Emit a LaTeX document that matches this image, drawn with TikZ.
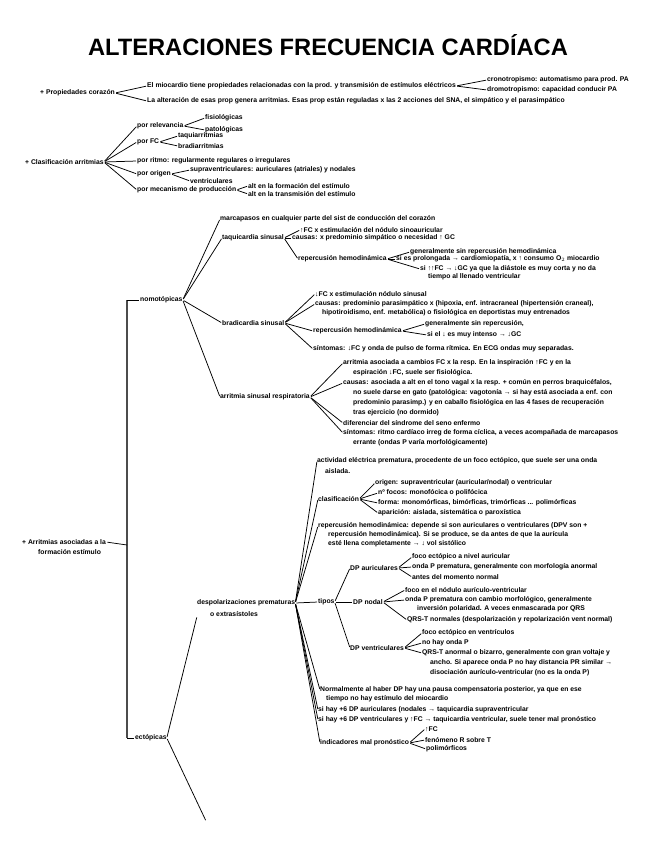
\documentclass[tikz,border=0pt]{standalone}
\usepackage{fontspec}
\setmainfont{Liberation Sans}
\usetikzlibrary{calc}
\tikzset{
  tx/.style={anchor=west, inner sep=0pt, font=\bfseries\fontsize{6.8}{8}\selectfont},
  ln/.style={line width=0.75pt, shorten <=1.2pt, shorten >=1pt},
  trunk/.style={line width=1.3pt, black!70},
}
\begin{document}
\begin{tikzpicture}[x=1pt,y=-1pt]
\useasboundingbox (0,0) rectangle (656,848);
\fill[white] (0,0) rectangle (656,848);
% title
\node[font=\bfseries\fontsize{24}{24}\selectfont, inner sep=0pt] (title) at (328,45) {\resizebox{480pt}{!}{ALTERACIONES FRECUENCIA CARDÍACA}};

% ---------- propiedades
\node[tx] (p0) at (40,93) {+ Propiedades corazón};
\node[tx] (a1) at (147,86) {El miocardio tiene propiedades relacionadas con la prod. y transmisión de estímulos eléctricos};
\node[tx] (a1a) at (487,80) {cronotropismo: automatismo para prod. PA};
\node[tx] (a1b) at (487,90) {dromotropismo: capacidad conducir PA};
\node[tx] (a2) at (147,101) {La alteración de esas prop genera arritmias. Esas prop están reguladas x las 2 acciones del SNA, el simpático y el parasimpático};
\draw[ln] (p0.east) -- (a1.west);
\draw[ln] (p0.east) -- (a2.west);
\draw[ln] (a1.east) -- (a1a.west);
\draw[ln] (a1.east) -- (a1b.west);

% ---------- clasificacion
\node[tx] (c0) at (25,162) {+ Clasificación arritmias};
\node[tx] (c1) at (137,126) {por relevancia};
\node[tx] (c1a) at (205,118) {fisiológicas};
\node[tx] (c1b) at (205,130) {patológicas};
\node[tx] (c2) at (137,142) {por FC};
\node[tx] (c2a) at (178,136) {taquiarritmias};
\node[tx] (c2b) at (178,146) {bradiarritmias};
\node[tx] (c3) at (137,161) {por ritmo: regularmente regulares o irregulares};
\node[tx] (c4) at (137,174) {por origen};
\node[tx] (c4a) at (190,170) {supraventriculares: auriculares (atriales) y nodales};
\node[tx] (c4b) at (190,181) {ventriculares};
\node[tx] (c5) at (137,190) {por mecanismo de producción};
\node[tx] (c5a) at (248,186) {alt en la formación del estímulo};
\node[tx] (c5b) at (248,194) {alt en la transmisión del estímulo};
\foreach \c in {c1,c2,c3,c4,c5} \draw[ln] (c0.east) -- (\c.west);
\draw[ln] (c1.east) -- (c1a.west); \draw[ln] (c1.east) -- (c1b.west);
\draw[ln] (c2.east) -- (c2a.west); \draw[ln] (c2.east) -- (c2b.west);
\draw[ln] (c4.east) -- (c4a.west); \draw[ln] (c4.east) -- (c4b.west);
\draw[ln] (c5.east) -- (c5a.west); \draw[ln] (c5.east) -- (c5b.west);

% ---------- arritmias formacion estimulo
\node[tx] (m0) at (22,542) {+ Arritmias asociadas a la};
\node[tx] (m0b) at (38,552) {formación estímulo};
\coordinate (tt) at (127,300);
\coordinate (tm) at (127,545);
\coordinate (tb) at (127,738);
\draw[trunk] (tt) -- (tb);
\draw[ln, shorten >=0pt] (m0.east) -- (tm);
\node[tx] (n0) at (140,300) {nomotópicas};
\node[tx] (e0) at (135,738) {ectópicas};
\draw[ln, shorten <=0pt] (tt) -- (n0.west);
\draw[ln, shorten <=0pt] (tb) -- (e0.west);

% nomotopicas
\node[tx] (n1) at (220,219) {marcapasos en cualquier parte del sist de conducción del corazón};
\node[tx] (n2) at (222,238) {taquicardia sinusal};
\node[tx] (n3) at (222,323) {bradicardia sinusal};
\node[tx] (n4) at (220,397) {arritmia sinusal respiratoria};
\foreach \c in {n1,n2,n3,n4} \draw[ln] (n0.east) -- (\c.west);

% taquicardia
\node[tx] (t1) at (300,230) {↑FC x estimulación del nódulo sinoauricular};
\node[tx] (t2) at (292,238) {causas: x predominio simpático o necesidad ↑ GC};
\node[tx] (t3) at (298,259) {repercusión hemodinámica};
\node[tx] (t3a) at (410,252) {generalmente sin repercusión hemodinámica};
\node[tx] (t3b) at (396,259) {si es prolongada → cardiomiopatía, x ↑ consumo O$_2$ miocardio};
\node[tx] (t3c) at (420,269) {si ↑↑FC → ↓GC ya que la diástole es muy corta y no da};
\node[tx] (t3c2) at (428,277) {tiempo al llenado ventricular};
\foreach \c in {t1,t2,t3} \draw[ln] (n2.east) -- (\c.west);
\foreach \c in {t3a,t3b,t3c} \draw[ln] (t3.east) -- (\c.west);

% bradicardia
\node[tx] (b1) at (315,294) {↓FC x estimulación nódulo sinusal};
\node[tx] (b2) at (315,304) {causas: predominio parasimpático x (hipoxia, enf. intracraneal (hipertensión craneal),};
\node[tx] (b2b) at (322,313) {hipotiroidismo, enf. metabólica) o fisiológica en deportistas muy entrenados};
\node[tx] (b3) at (313,331) {repercusión hemodinámica};
\node[tx] (b3a) at (425,324) {generalmente sin repercusión,};
\node[tx] (b3b) at (427,335) {si el ↓ es muy intenso → ↓GC};
\node[tx] (b4) at (313,349) {síntomas: ↓FC y onda de pulso de forma rítmica. En ECG ondas muy separadas.};
\foreach \c in {b1,b2,b3,b4} \draw[ln] (n3.east) -- (\c.west);
\foreach \c in {b3a,b3b} \draw[ln] (b3.east) -- (\c.west);

% arritmia sinusal
\node[tx] (s1) at (343,363) {arritmia asociada a cambios FC x la resp. En la inspiración ↑FC y en la};
\node[tx] (s1b) at (353,373) {espiración ↓FC, suele ser fisiológica.};
\node[tx] (s2) at (343,383) {causas: asociada a alt en el tono vagal x la resp. + común en perros braquicéfalos,};
\node[tx] (s2b) at (353,393) {no suele darse en gato (patológica: vagotonía → si hay está asociada a enf. con};
\node[tx] (s2c) at (353,403) {predominio parasimp.) y en caballo fisiológica en las 4 fases de recuperación};
\node[tx] (s2d) at (353,413) {tras ejercicio (no dormido)};
\node[tx] (s3) at (343,423) {diferenciar del síndrome del seno enfermo};
\node[tx] (s4) at (343,433) {síntomas: ritmo cardíaco irreg de forma cíclica, a veces acompañada de marcapasos};
\node[tx] (s4b) at (353,443) {errante (ondas P varía morfológicamente)};
\foreach \c in {s1,s2,s3,s4} \draw[ln] (n4.east) -- (\c.west);

% ectopicas
\node[tx] (d0) at (197,603) {despolarizaciones prematuras};
\node[tx] (d0b) at (210,614) {o extrasístoles};
\coordinate (ecend) at (206,821);
\draw[ln] (e0.east) -- (ecend);
\draw[ln] (e0.east) -- ($(d0.south west)+(0,10)$);

\node[tx] (x1) at (317,461) {actividad eléctrica prematura, procedente de un foco ectópico, que suele ser una onda};
\node[tx] (x1b) at (325,471) {aislada.};
\node[tx] (x2) at (318,499) {clasificación};
\node[tx] (x2a) at (375,483) {origen: supraventricular (auricular/nodal) o ventricular};
\node[tx] (x2b) at (378,493) {nº focos: monofócica o polifócica};
\node[tx] (x2c) at (378,503) {forma: monomórficas, bimórficas, trimórficas ... polimórficas};
\node[tx] (x2d) at (378,513) {aparición: aislada, sistemática o paroxística};
\node[tx] (x3) at (318,526) {repercusión hemodinámica: depende si son auriculares o ventriculares (DPV son +};
\node[tx] (x3b) at (328,535) {repercusión hemodinámica). Si se produce, se da antes de que la aurícula};
\node[tx] (x3c) at (328,544) {esté llena completamente → ↓ vol sistólico};
\node[tx] (x4) at (318,602) {tipos};
\node[tx] (x5) at (320,690) {Normalmente al haber DP hay una pausa compensatoria posterior, ya que en ese};
\node[tx] (x5b) at (326,699) {tiempo no hay estímulo del miocardio};
\node[tx] (x6) at (318,710) {si hay +6 DP auriculares (nodales → taquicardia supraventricular};
\node[tx] (x7) at (318,720) {si hay +6 DP ventriculares y ↑FC → taquicardia ventricular, suele tener mal pronóstico};
\node[tx] (x8) at (320,743) {indicadores mal pronóstico};
\node[tx] (x8a) at (425,729) {↑FC};
\node[tx] (x8b) at (425,740) {fenómeno R sobre T};
\node[tx] (x8c) at (426,749) {polimórficos};
\foreach \c in {x1,x2,x3,x4,x5,x6,x7,x8} \draw[ln] (d0.east) -- (\c.west);
\foreach \c in {x2a,x2b,x2c,x2d} \draw[ln] (x2.east) -- (\c.west);
\foreach \c in {x8a,x8b,x8c} \draw[ln] (x8.east) -- (\c.west);

% tipos
\node[tx] (da) at (350,568) {DP auriculares};
\node[tx] (da1) at (412,557) {foco ectópico a nivel auricular};
\node[tx] (da2) at (412,567) {onda P prematura, generalmente con morfología anormal};
\node[tx] (da3) at (412,577) {antes del momento normal};
\node[tx] (dn) at (353,602) {DP nodal};
\node[tx] (dn1) at (405,590) {foco en el nódulo aurículo-ventricular};
\node[tx] (dn2) at (405,600) {onda P prematura con cambio morfológico, generalmente};
\node[tx] (dn2b) at (417,609) {inversión polaridad. A veces enmascarada por QRS};
\node[tx] (dn3) at (407,620) {QRS-T normales (despolarización y repolarización vent normal)};
\node[tx] (dv) at (350,648) {DP ventriculares};
\node[tx] (dv1) at (422,633) {foco ectópico en ventrículos};
\node[tx] (dv2) at (422,643) {no hay onda P};
\node[tx] (dv3) at (422,653) {QRS-T anormal o bizarro, generalmente con gran voltaje y};
\node[tx] (dv3b) at (430,663) {ancho. Si aparece onda P no hay distancia PR similar →};
\node[tx] (dv3c) at (430,673) {disociación aurículo-ventricular (no es la onda P)};
\foreach \c in {da,dn,dv} \draw[ln] (x4.east) -- (\c.west);
\foreach \c in {da1,da2,da3} \draw[ln] (da.east) -- (\c.west);
\foreach \c in {dn1,dn2,dn3} \draw[ln] (dn.east) -- (\c.west);
\foreach \c in {dv1,dv2,dv3} \draw[ln] (dv.east) -- (\c.west);
\end{tikzpicture}
\end{document}
